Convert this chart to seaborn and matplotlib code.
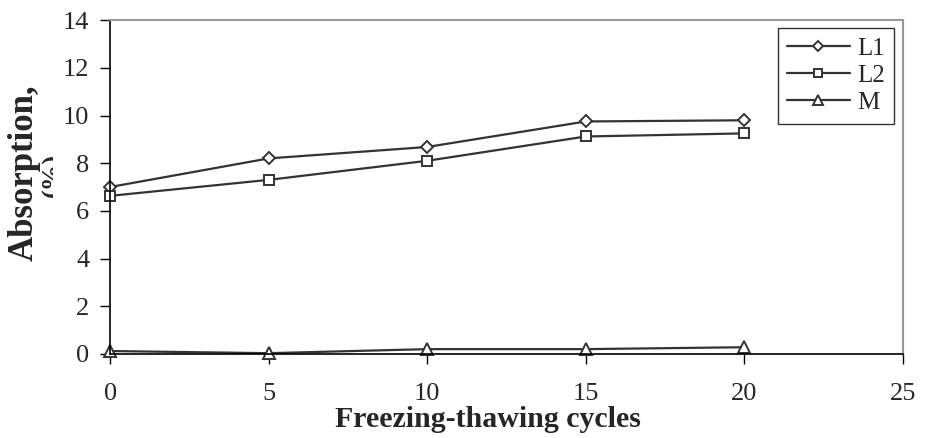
import pandas as pd
import numpy as np
import matplotlib
matplotlib.use("Agg")
import matplotlib.pyplot as plt
import matplotlib.transforms as mtransforms
import seaborn as sns

# Werte
cycles = [0, 5, 10, 15, 20]
l1 = [7.0, 8.2, 8.68, 9.75, 9.8]
l2 = [6.63, 7.3, 8.1, 9.12, 9.25]
m = [0.12, 0.03, 0.2, 0.2, 0.28]

series = ['L1', 'L2', 'M']
markers = {'L1': 'D', 'L2': 's', 'M': '^'}
msize = {'L1': 6.5, 'L2': 7.5, 'M': 8.5}

df = pd.DataFrame({
    'cycles': cycles * 3,
    'absorption': l1 + l2 + m,
    'sample': ['L1'] * 5 + ['L2'] * 5 + ['M'] * 5,
})

sns.set_style('white')
plt.rcParams['font.family'] = ['Liberation Serif', 'DejaVu Serif']

fig = plt.figure(figsize=(9.25, 4.38), dpi=100)
ax = fig.add_axes([0.119, 0.192, 0.857, 0.762])

for s in series:
    sub = df[df['sample'] == s]
    sns.lineplot(data=sub, x='cycles', y='absorption', ax=ax, color='#333333',
                 linewidth=1.6, marker=markers[s], markersize=msize[s],
                 markerfacecolor='white', markeredgecolor='#333333',
                 markeredgewidth=1.4, label=s, clip_on=False)

ax.set_xlim(0, 25)
ax.set_ylim(0, 14)
ax.set_xticks(range(0, 26, 5))
ax.set_yticks(range(0, 15, 2))
ax.tick_params(axis='both', labelsize=19, direction='out', length=7,
               width=1, color='black', left=True, bottom=True)
ax.tick_params(axis='x', pad=14)
ax.tick_params(axis='y', pad=8)

for side in ['top', 'right']:
    ax.spines[side].set_color('#999999')
    ax.spines[side].set_linewidth(1.5)
for side in ['left', 'bottom']:
    ax.spines[side].set_color('black')
    ax.spines[side].set_linewidth(1.2)

ax.set_xlabel('')
ax.set_ylabel('')
fig.text(0.527, 0.042, 'Freezing-thawing cycles', ha='center', va='center',
         fontsize=21.5, fontweight='bold')
fig.text(0.026, 0.605, 'Absorption,', rotation=90, ha='center', va='center',
         fontsize=25, fontweight='bold')
pct = fig.text(0.058, 0.60, '(%)', rotation=90, ha='center', va='center',
               fontsize=19, fontweight='bold')
# die untere Haelfte von "(%)" ist im Original verdeckt
clip = mtransforms.TransformedBbox(mtransforms.Bbox([[0, 0], [53 / 925, 1]]),
                                   fig.transFigure)
pct.set_clip_box(clip)
pct.set_clip_on(True)

leg = ax.legend(loc='upper left', bbox_to_anchor=(0.842, 0.976), frameon=True,
                fancybox=False, edgecolor='black', fontsize=18,
                handlelength=2.5, handletextpad=0.3, borderpad=0.38,
                labelspacing=0.18, markerscale=0.8, borderaxespad=0)
leg.get_frame().set_linewidth(1.0)

fig.savefig('out.png', dpi=100)
